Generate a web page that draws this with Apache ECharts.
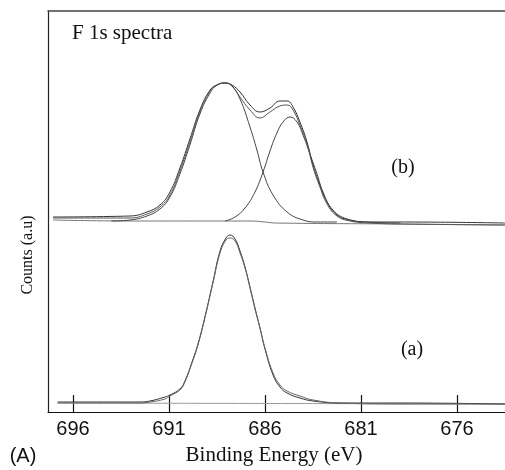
<!DOCTYPE html>
<html><head><meta charset="utf-8">
<script src="https://cdn.jsdelivr.net/npm/echarts@6/dist/echarts.min.js"></script>
<style>html,body{margin:0;padding:0;background:#fff}#c{width:505px;height:470px}</style>
</head><body><div id="c"></div>
<script>
// x tick labels (binding energy, eV)
const tickValues = [696, 691, 686, 681, 676];

// (b) spectrum: measured envelope and fitted envelope
const envE   = [697.04,693.03,692.15,691.47,690.95,690.43,689.91,689.39,688.86,688.50,688.08,687.72,687.30,686.78,686.26,685.74,685.22,684.85,684.54,684.18,683.81,683.50,683.14,682.77,682.25,681.57,680.53,678.97,673.50];
const envRaw = [195,196,200,207,220,244,273,302,322,327,329,327,320,307,300,304,311,311,305,290,270,247,227,210,197,192,190,190,189];
const envFit = [194,194,198,205,217,241,270,300,321,327,329,326,315,302,294,300,306,307,302,287,268,245,225,208,196,191,189,188,187];

// (b) component 1 (high BE)
const comp1E = [694.0,693.03,692.15,691.47,690.95,690.43,689.91,689.39,688.86,688.50,688.08,687.72,687.30,686.78,686.42,686.10,685.58,684.85,684.02,683.29,682.25];
const comp1  = [191,192,196,203,215,238,267,298,319,327,329,326,313,285,262,240,217,200,192,190,190];

// (b) component 2 (low BE)
const comp2E = [688.08,687.56,687.04,686.52,686.10,685.74,685.38,685.06,684.70,684.33,684.02,683.66,683.29,682.98,682.46,681.73,680.79,678.97];
const comp2  = [191,195,204,220,240,261,279,290,295,290,277,258,238,220,202,193,190,189];

// (b) background
const baseBE = [697.04,693.03,686.78,686.0,685.48,678.97,673.5];
const baseB  = [192,191,191,190,189,188,187];

// (a) spectrum: measured and fit
const aE   = [696.80,694.59,692.51,691.99,691.21,690.95,690.43,690.17,689.80,689.49,689.13,688.71,688.34,688.03,687.82,687.56,687.30,687.04,686.78,686.52,686.26,686.00,685.58,685.22,684.85,684.18,683.50,682.09,678.97,673.50];
const aRaw = [10,10,10,11,15,17,23,31,50,68,95,130,161,174,177,173,161,145,125,104,84,63,37,25,19,14,11,9,9,8];
const aFit = [9,9,9,10,13,16,22,30,49,67,94,129,159,172,174,171,159,144,124,103,84,64,39,27,21,16,12,9,8,8];

// (a) background
const baseAE = [696.8,673.5];
const baseA  = [9,8];

const zip = (xs, ys) => xs.map((x, i) => [x, ys[i]]);
const line = (data, color, width) => ({
  type: 'line', data, showSymbol: false, smooth: 0.45,
  lineStyle: { color, width }, silent: true, animation: false, z: 3
});

const serif = 'Liberation Serif, Times New Roman, serif';
const sans = 'Liberation Sans, Arial, sans-serif';

const chart = echarts.init(document.getElementById('c'));
chart.setOption({
  animation: false,
  backgroundColor: '#fff',
  grid: { left: 48, right: 0, top: 11, bottom: 58 },
  xAxis: [{
    type: 'value', inverse: true, min: 673.5, max: 697.3,
    axisLine: { show: true, lineStyle: { color: '#111', width: 1.2 } },
    axisTick: { show: true, inside: true, length: 17, customValues: tickValues, lineStyle: { color: '#111', width: 1.2 } },
    axisLabel: { show: true, customValues: tickValues, margin: 7, color: '#111', fontFamily: sans, fontSize: 20 },
    splitLine: { show: false }
  }, {
    type: 'value', position: 'top', inverse: true, min: 673.5, max: 697.3,
    axisLine: { show: true, lineStyle: { color: '#444', width: 1.5 } },
    axisTick: { show: false }, axisLabel: { show: false }, splitLine: { show: false }
  }],
  yAxis: {
    type: 'value', min: 0, max: 401,
    axisLine: { show: true, lineStyle: { color: '#222', width: 1.2 } },
    axisTick: { show: false }, axisLabel: { show: false }, splitLine: { show: false }
  },
  series: [
    line(zip(baseBE, baseB), '#777', 1),
    line(zip(comp1E, comp1), '#444', 1),
    line(zip(comp2E, comp2), '#444', 1),
    line(zip(envE, envRaw), '#333', 1),
    line(zip(envE, envFit), '#555', 1),
    line(zip(baseAE, baseA), '#999', 1),
    line(zip(aE, aRaw), '#333', 1),
    line(zip(aE, aFit), '#666', 1)
  ],
  graphic: [
    { type: 'text', left: 72, top: 23, style: { text: 'F 1s spectra', font: '21px ' + serif, fill: '#111' } },
    { type: 'text', x: 403, y: 168, style: { text: '(b)', font: '20px ' + serif, fill: '#111', align: 'center', verticalAlign: 'middle' } },
    { type: 'text', x: 412, y: 350, style: { text: '(a)', font: '20px ' + serif, fill: '#111', align: 'center', verticalAlign: 'middle' } },
    { type: 'text', x: 274, y: 455, style: { text: 'Binding Energy (eV)', font: '21px ' + serif, fill: '#111', align: 'center', verticalAlign: 'middle' } },
    { type: 'text', x: 23, y: 456, style: { text: '(A)', font: '20px ' + sans, fill: '#111', align: 'center', verticalAlign: 'middle' } },
    { type: 'text', x: 28, y: 255, rotation: Math.PI / 2, style: { text: 'Counts (a.u)', font: '16px ' + serif, fill: '#111', align: 'center', verticalAlign: 'middle' } }
  ]
});
</script>
</body></html>
